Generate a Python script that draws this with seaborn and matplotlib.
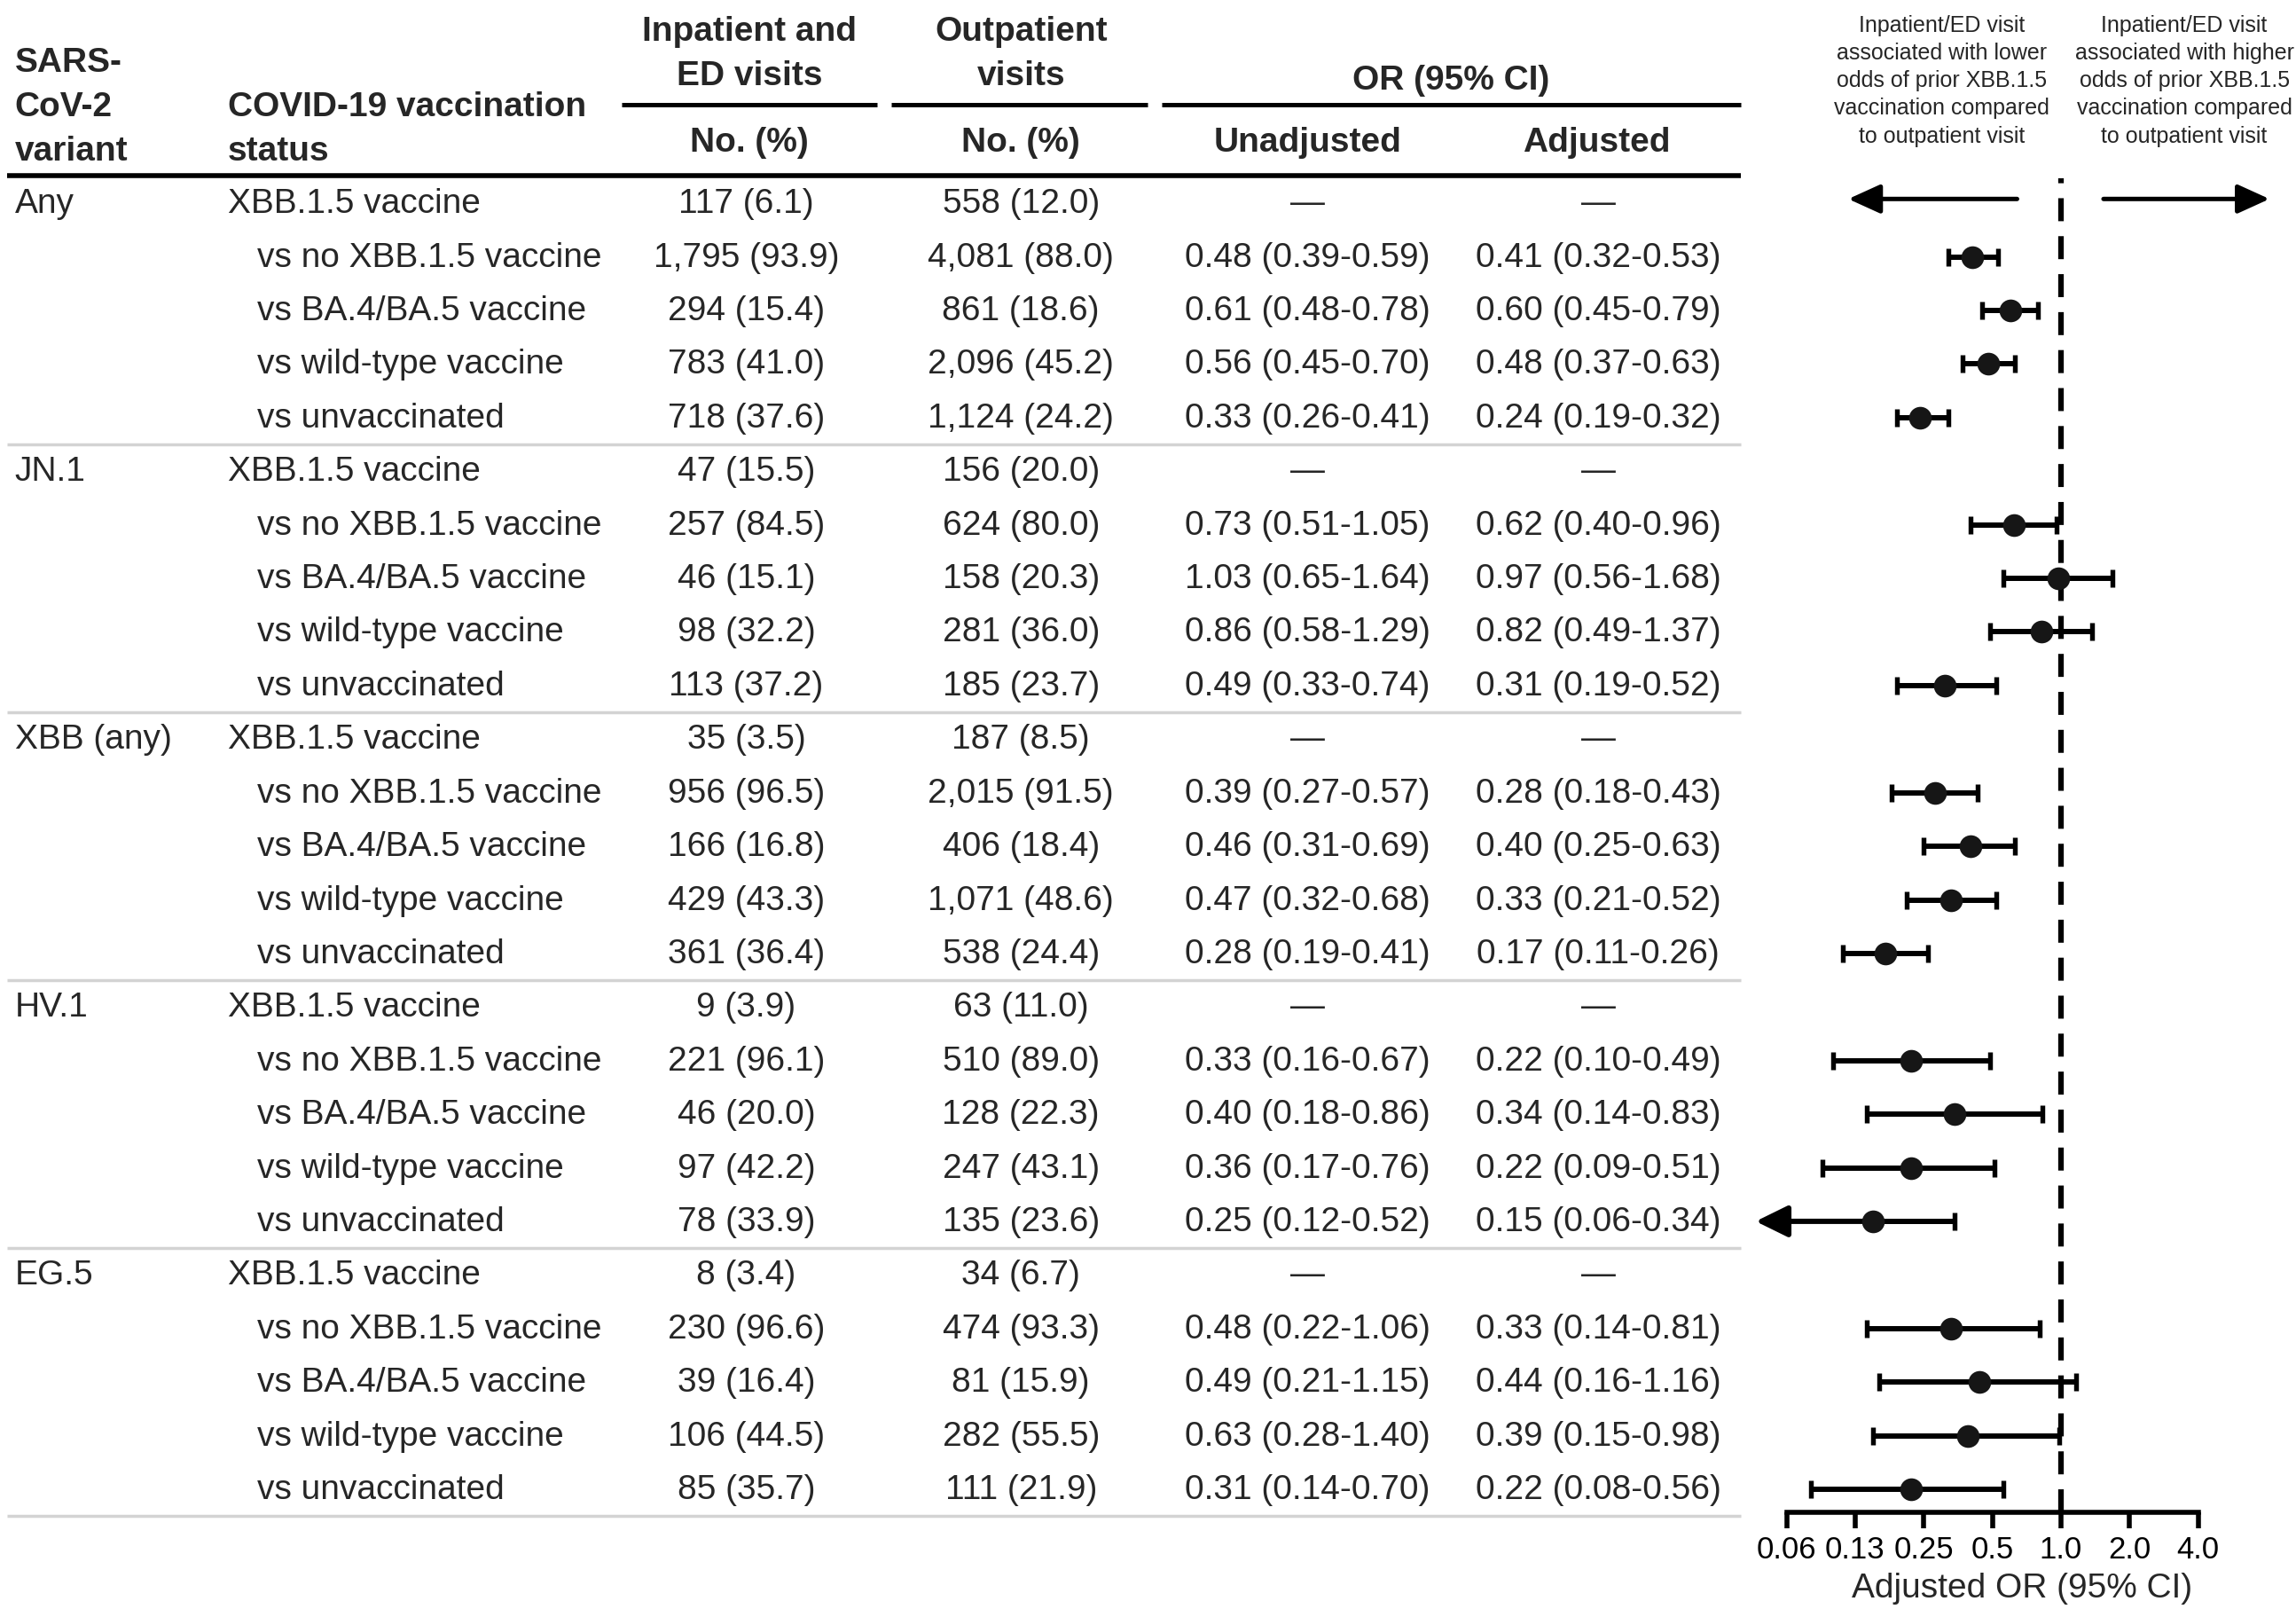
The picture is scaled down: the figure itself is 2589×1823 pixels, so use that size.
import numpy as np
import matplotlib
matplotlib.use("Agg")
import matplotlib.pyplot as plt
from matplotlib.ticker import NullLocator
import seaborn as sns

# ---- data ----
variants = ["Any", "JN.1", "XBB (any)", "HV.1", "EG.5"]
statuses = ["XBB.1.5 vaccine", "vs no XBB.1.5 vaccine", "vs BA.4/BA.5 vaccine",
            "vs wild-type vaccine", "vs unvaccinated"]

inpatient = ["117 (6.1)", "1,795 (93.9)", "294 (15.4)", "783 (41.0)", "718 (37.6)",
             "47 (15.5)", "257 (84.5)", "46 (15.1)", "98 (32.2)", "113 (37.2)",
             "35 (3.5)", "956 (96.5)", "166 (16.8)", "429 (43.3)", "361 (36.4)",
             "9 (3.9)", "221 (96.1)", "46 (20.0)", "97 (42.2)", "78 (33.9)",
             "8 (3.4)", "230 (96.6)", "39 (16.4)", "106 (44.5)", "85 (35.7)"]
outpatient = ["558 (12.0)", "4,081 (88.0)", "861 (18.6)", "2,096 (45.2)", "1,124 (24.2)",
              "156 (20.0)", "624 (80.0)", "158 (20.3)", "281 (36.0)", "185 (23.7)",
              "187 (8.5)", "2,015 (91.5)", "406 (18.4)", "1,071 (48.6)", "538 (24.4)",
              "63 (11.0)", "510 (89.0)", "128 (22.3)", "247 (43.1)", "135 (23.6)",
              "34 (6.7)", "474 (93.3)", "81 (15.9)", "282 (55.5)", "111 (21.9)"]
unadjusted = ["—", "0.48 (0.39-0.59)", "0.61 (0.48-0.78)", "0.56 (0.45-0.70)", "0.33 (0.26-0.41)",
              "—", "0.73 (0.51-1.05)", "1.03 (0.65-1.64)", "0.86 (0.58-1.29)", "0.49 (0.33-0.74)",
              "—", "0.39 (0.27-0.57)", "0.46 (0.31-0.69)", "0.47 (0.32-0.68)", "0.28 (0.19-0.41)",
              "—", "0.33 (0.16-0.67)", "0.40 (0.18-0.86)", "0.36 (0.17-0.76)", "0.25 (0.12-0.52)",
              "—", "0.48 (0.22-1.06)", "0.49 (0.21-1.15)", "0.63 (0.28-1.40)", "0.31 (0.14-0.70)"]
adjusted = ["—", "0.41 (0.32-0.53)", "0.60 (0.45-0.79)", "0.48 (0.37-0.63)", "0.24 (0.19-0.32)",
            "—", "0.62 (0.40-0.96)", "0.97 (0.56-1.68)", "0.82 (0.49-1.37)", "0.31 (0.19-0.52)",
            "—", "0.28 (0.18-0.43)", "0.40 (0.25-0.63)", "0.33 (0.21-0.52)", "0.17 (0.11-0.26)",
            "—", "0.22 (0.10-0.49)", "0.34 (0.14-0.83)", "0.22 (0.09-0.51)", "0.15 (0.06-0.34)",
            "—", "0.33 (0.14-0.81)", "0.44 (0.16-1.16)", "0.39 (0.15-0.98)", "0.22 (0.08-0.56)"]

tick_vals = [0.0625, 0.125, 0.25, 0.5, 1.0, 2.0, 4.0]
tick_labels = ["0.06", "0.13", "0.25", "0.5", "1.0", "2.0", "4.0"]

# parse adjusted OR strings for the forest plot
or_est, or_lo, or_hi = [], [], []
for s in adjusted:
    if s == "—":
        or_est.append(np.nan); or_lo.append(np.nan); or_hi.append(np.nan)
    else:
        est, ci = s.split(" (")
        lo, hi = ci.rstrip(")").split("-")
        or_est.append(float(est)); or_lo.append(float(lo)); or_hi.append(float(hi))
or_est = np.array(or_est); or_lo = np.array(or_lo); or_hi = np.array(or_hi)

# ---- style ----
sns.set_theme(style="white")
plt.rcParams["font.family"] = ["Liberation Sans", "DejaVu Sans"]

FS = 28
W, H = 1563, 1101          # layout units (scaled pixels)
row_top, row_step = 139, 36.46
n_rows = len(inpatient)
row_y = row_top + row_step * np.arange(n_rows)

fig = plt.figure(figsize=(25.89, 18.24), dpi=100)
axt = fig.add_axes([0, 0, 1, 1])
axt.set_xlim(0, W)
axt.set_ylim(H, 0)
axt.axis("off")

# header
bold = dict(fontsize=FS, fontweight="bold", va="center")
axt.text(10, 43, "SARS-", ha="left", **bold)
axt.text(10, 73, "CoV-2", ha="left", **bold)
axt.text(10, 103, "variant", ha="left", **bold)
axt.text(155, 73, "COVID-19 vaccination", ha="left", **bold)
axt.text(155, 103, "status", ha="left", **bold)
axt.text(510, 22, "Inpatient and", ha="center", **bold)
axt.text(510, 52, "ED visits", ha="center", **bold)
axt.text(695, 22, "Outpatient", ha="center", **bold)
axt.text(695, 52, "visits", ha="center", **bold)
axt.text(988, 55, "OR (95% CI)", ha="center", **bold)
axt.text(510, 97, "No. (%)", ha="center", **bold)
axt.text(695, 97, "No. (%)", ha="center", **bold)
axt.text(890, 97, "Unadjusted", ha="center", **bold)
axt.text(1087, 97, "Adjusted", ha="center", **bold)
for xa, xb in [(423, 597), (607, 781), (791, 1185)]:
    axt.plot([xa, xb], [72, 72], color="black", lw=3.6, solid_capstyle="butt")
axt.plot([5, 1185], [120, 120], color="black", lw=4, solid_capstyle="butt")

# body
for i in range(n_rows):
    y = row_y[i]
    g, k = divmod(i, len(statuses))
    if k == 0:
        axt.text(10, y, variants[g], ha="left", va="center", fontsize=FS)
        axt.text(155, y, statuses[k], ha="left", va="center", fontsize=FS)
    else:
        axt.text(175, y, statuses[k], ha="left", va="center", fontsize=FS)
    axt.text(508, y, inpatient[i], ha="center", va="center", fontsize=FS)
    axt.text(695, y, outpatient[i], ha="center", va="center", fontsize=FS)
    axt.text(890, y, unadjusted[i], ha="center", va="center", fontsize=FS)
    axt.text(1088, y, adjusted[i], ha="center", va="center", fontsize=FS)
    if k == len(statuses) - 1:
        yl = y + row_step / 2
        axt.plot([5, 1185], [yl, yl], color="#d3d3d3", lw=2.5, solid_capstyle="butt")

# direction notes
note_l = "Inpatient/ED visit\nassociated with lower\nodds of prior XBB.1.5\nvaccination compared\nto outpatient visit"
note_r = "Inpatient/ED visit\nassociated with higher\nodds of prior XBB.1.5\nvaccination compared\nto outpatient visit"
axt.text(1322, 55, note_l, ha="center", va="center", fontsize=18, linespacing=1.38)
axt.text(1487, 55, note_r, ha="center", va="center", fontsize=18, linespacing=1.38)

# ---- forest plot ----
x_left, x_right, y_axis = 1190, 1563, 1030
x_one, per_dbl = 1403, 46.7
axf = fig.add_axes([x_left / W, (H - y_axis) / H, (x_right - x_left) / W, y_axis / H])
axf.patch.set_alpha(0)
axf.set_xscale("log", base=2)
axf.set_xlim(2 ** (-(x_one - x_left) / per_dbl), 2 ** ((x_right - x_one) / per_dbl))
axf.set_ylim(y_axis, 0)

# reference line at OR = 1
axf.plot([1, 1], [y_axis, 122], color="black", lw=4.5, linestyle=(0, (4.15, 2.7)),
         clip_on=False, zorder=1)

valid = ~np.isnan(or_est)
clipped = valid & (or_lo < tick_vals[0])
normal = valid & ~clipped
ebar = dict(fmt="none", ecolor="black", elinewidth=4.3, capsize=7, capthick=3.9, zorder=2)
axf.errorbar(or_est[normal], row_y[normal],
             xerr=[or_est[normal] - or_lo[normal], or_hi[normal] - or_est[normal]], **ebar)
axf.errorbar(or_est[clipped], row_y[clipped],
             xerr=[np.zeros(clipped.sum()), or_hi[clipped] - or_est[clipped]], **ebar)
tip = tick_vals[0] / 2 ** 0.45
for xe, ye in zip(or_est[clipped], row_y[clipped]):
    axf.annotate("", xy=(tip, ye), xytext=(xe, ye),
                 arrowprops=dict(arrowstyle="-|>,head_length=0.55,head_width=0.27",
                                 lw=4.3, color="black", mutation_scale=40,
                                 shrinkA=0, shrinkB=0), zorder=2)
sns.scatterplot(x=or_est[valid], y=row_y[valid], ax=axf, s=340, color="#161616",
                linewidth=0, zorder=3)

# direction arrows
y_arr = row_y[0] - 3
arr = dict(arrowstyle="-|>,head_length=0.55,head_width=0.25", lw=3.6, color="black",
           mutation_scale=40, shrinkA=0, shrinkB=0)
axf.annotate("", xy=(2 ** -3.1, y_arr), xytext=(2 ** -0.64, y_arr), arrowprops=arr)
axf.annotate("", xy=(2 ** 3.04, y_arr), xytext=(2 ** 0.62, y_arr), arrowprops=arr)

axf.set_xticks(tick_vals)
axf.set_xticklabels(tick_labels, fontsize=25)
axf.xaxis.set_minor_locator(NullLocator())
axf.set_yticks([])
for side in ["left", "top", "right"]:
    axf.spines[side].set_visible(False)
axf.spines["bottom"].set_linewidth(4)
axf.spines["bottom"].set_color("black")
axf.spines["bottom"].set_bounds(tick_vals[0], tick_vals[-1])
axf.tick_params(axis="x", direction="out", length=13, width=4, pad=5, colors="black",
                bottom=True)
axf.set_xlabel("Adjusted OR (95% CI)", fontsize=FS, labelpad=6)
axf.set_ylabel("")

fig.savefig("out.png", dpi=100, facecolor="white")
